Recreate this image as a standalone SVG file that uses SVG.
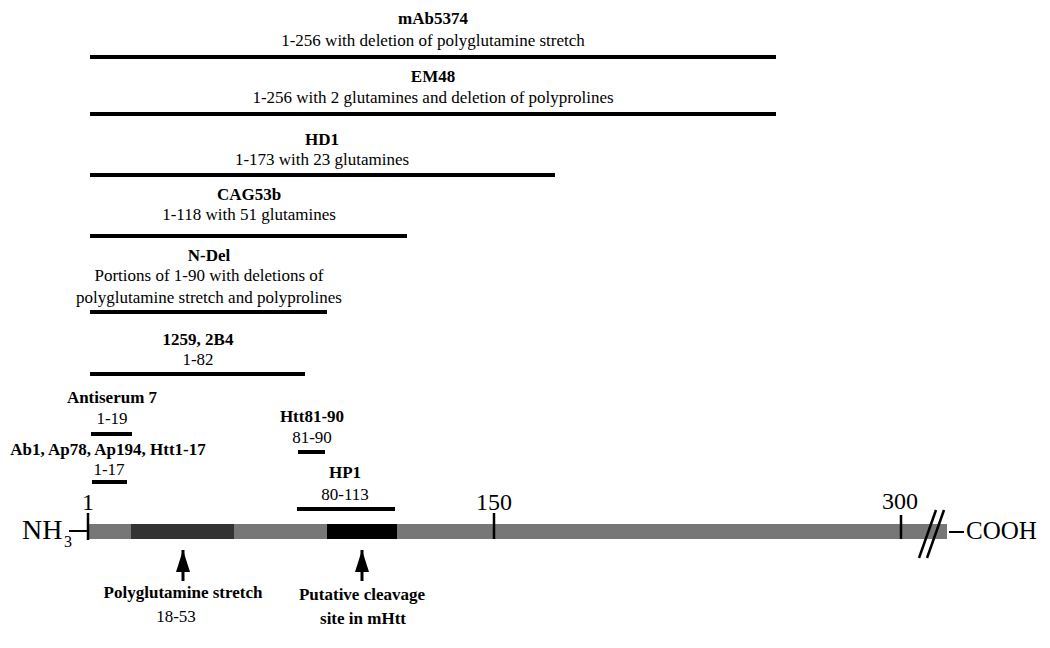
<svg xmlns="http://www.w3.org/2000/svg" width="1050" height="648" viewBox="0 0 1050 648">
<style>
text{font-family:"Liberation Serif","Times New Roman",serif;fill:#000}
.t{font-size:17px;font-weight:bold;text-anchor:middle}
.s{font-size:17px;text-anchor:middle}
.n{font-size:24px;text-anchor:middle}
.bar{stroke:#000;stroke-width:4;fill:none}
.tick{stroke:#000;stroke-width:2.5}
.arr{stroke:#000;stroke-width:3}
</style>
<defs>
<marker id="ah" markerWidth="22" markerHeight="14" refX="22" refY="7" orient="auto" markerUnits="userSpaceOnUse" viewBox="0 0 22 14">
<path d="M0,0 L22,7 L0,14 Z" fill="#000"/>
</marker>
</defs>

<g id="mAb5374">
<text class="t" x="433" y="24">mAb5374</text>
<text class="s" x="433" y="46">1-256 with deletion of polyglutamine stretch</text>
<line class="bar" x1="90" y1="57" x2="776" y2="57"/>
</g>
<g id="EM48">
<text class="t" x="433" y="82">EM48</text>
<text class="s" x="433" y="103">1-256 with 2 glutamines and deletion of polyprolines</text>
<line class="bar" x1="90" y1="114" x2="776" y2="114"/>
</g>
<g id="HD1">
<text class="t" x="322" y="145">HD1</text>
<text class="s" x="322" y="165">1-173 with 23 glutamines</text>
<line class="bar" x1="90" y1="175" x2="555" y2="175"/>
</g>
<g id="CAG53b">
<text class="t" x="249" y="200">CAG53b</text>
<text class="s" x="249" y="220">1-118 with 51 glutamines</text>
<line class="bar" x1="90" y1="236" x2="407" y2="236"/>
</g>
<g id="NDel">
<text class="t" x="209" y="261">N-Del</text>
<text class="s" x="209" y="281">Portions of 1-90 with deletions of</text>
<text class="s" x="209" y="303">polyglutamine stretch and polyprolines</text>
<line class="bar" x1="90" y1="312" x2="327" y2="312"/>
</g>
<g id="b1259">
<text class="t" x="198" y="345">1259, 2B4</text>
<text class="s" x="198" y="365">1-82</text>
<line class="bar" x1="90" y1="374" x2="305" y2="374"/>
</g>
<g id="antiserum7">
<text class="t" x="112" y="403">Antiserum 7</text>
<text class="s" x="112" y="424">1-19</text>
<line class="bar" x1="91" y1="434" x2="132" y2="434"/>
</g>
<g id="ab1">
<text class="t" x="108" y="455">Ab1, Ap78, Ap194, Htt1-17</text>
<text class="s" x="109" y="475">1-17</text>
<line class="bar" x1="92" y1="482" x2="127" y2="482"/>
</g>
<g id="htt8190">
<text class="t" x="312" y="422">Htt81-90</text>
<text class="s" x="312" y="443">81-90</text>
<line class="bar" x1="298" y1="452" x2="325" y2="452"/>
</g>
<g id="HP1">
<text class="t" x="345" y="478">HP1</text>
<text class="s" x="345" y="500">80-113</text>
<line class="bar" x1="297" y1="509" x2="395" y2="509"/>
</g>

<g id="protein">
<rect x="88" y="524" width="859" height="15" fill="#777777"/>
<rect x="131" y="524" width="103" height="15" fill="#333333"/>
<rect x="327" y="524" width="70" height="15" fill="#000000"/>
<line class="tick" x1="88" y1="513" x2="88" y2="540"/>
<line class="tick" x1="494" y1="513" x2="494" y2="539"/>
<line class="tick" x1="901" y1="515" x2="901" y2="539"/>
<text class="n" x="88" y="510">1</text>
<text class="n" x="494" y="510">150</text>
<text class="n" x="900" y="509">300</text>
<line stroke="#000" stroke-width="2.5" x1="919" y1="558" x2="936" y2="510"/>
<line stroke="#000" stroke-width="2.5" x1="927" y1="558" x2="944" y2="510"/>
<text x="22" y="539" font-size="28">NH</text>
<text x="64" y="547" font-size="16">3</text>
<line stroke="#000" stroke-width="2" x1="69" y1="531" x2="87" y2="531"/>
<line stroke="#000" stroke-width="2" x1="949" y1="532" x2="964" y2="532"/>
<text x="966" y="539" font-size="25">COOH</text>
</g>

<g id="connectors">
<line class="arr" x1="183" y1="581" x2="183" y2="550" marker-end="url(#ah)"/>
<line class="arr" x1="362" y1="581" x2="362" y2="550" marker-end="url(#ah)"/>
</g>

<g id="polyQ">
<text class="t" x="183" y="598">Polyglutamine stretch</text>
<text class="s" x="176" y="622">18-53</text>
</g>
<g id="cleavage">
<text class="t" x="362" y="600">Putative cleavage</text>
<text class="t" x="363" y="624">site in mHtt</text>
</g>
</svg>
